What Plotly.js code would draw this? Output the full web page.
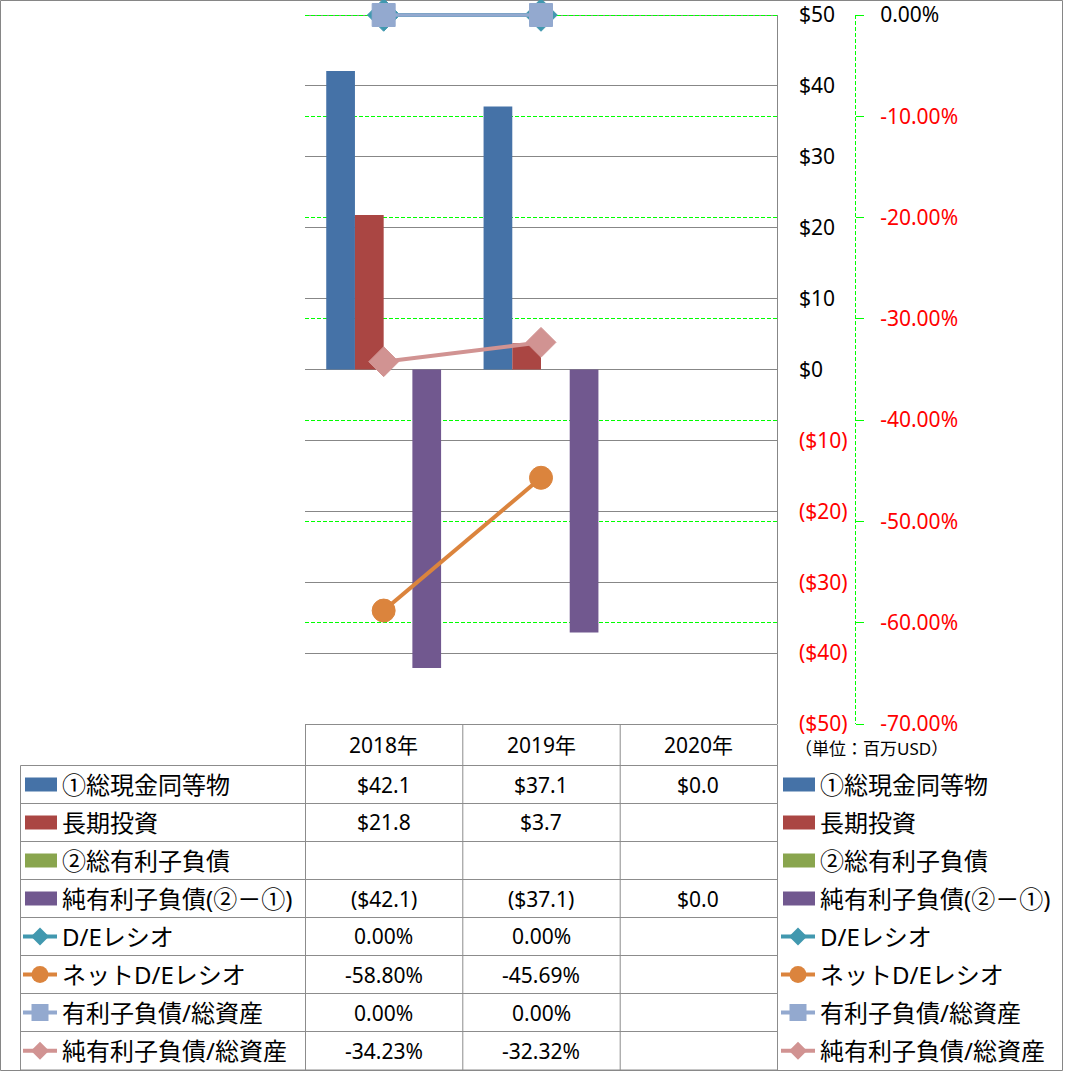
<!DOCTYPE html>
<html><head><meta charset="utf-8">
<script src="https://cdn.plot.ly/plotly-3.0.1.min.js"></script>
<style>html,body{margin:0;padding:0;background:#fff}#chart{width:1066px;height:1071px}</style>
</head><body><div id="chart"></div>
<script>
// ---- data ----
const categories = ['2018年', '2019年', '2020年'];
const cashEquivalents = [42.1, 37.1, 0.0];
const longTermInvestments = [21.8, 3.7, null];
const totalInterestBearingDebt = [null, null, null];
const netInterestBearingDebt = [-42.1, -37.1, 0.0];
const deRatio = [0.00, 0.00, null];
const netDeRatio = [-58.80, -45.69, null];
const debtToAssets = [0.00, 0.00, null];
const netDebtToAssets = [-34.23, -32.32, null];
const seriesNames = ['①総現金同等物', '長期投資', '②総有利子負債', '純有利子負債(②－①)',
  'D/Eレシオ', 'ネットD/Eレシオ', '有利子負債/総資産', '純有利子負債/総資産'];
const moneyTickValues = [50, 40, 30, 20, 10, 0, -10, -20, -30, -40, -50];
const moneyTickLabels = ['$50', '$40', '$30', '$20', '$10', '$0', '($10)', '($20)', '($30)', '($40)', '($50)'];
const pctTickValues = [0, -10, -20, -30, -40, -50, -60, -70];
const pctTickLabels = ['0.00%', '-10.00%', '-20.00%', '-30.00%', '-40.00%', '-50.00%', '-60.00%', '-70.00%'];
const unitLabel = '（単位：百万USD）';

// ---- styles ----
const FONT = '"Noto Sans", "Noto Sans CJK JP", sans-serif';
const colors = ['#4572A7', '#AA4643', '#89A54E', '#71588F', '#4198AF', '#DB843D', '#93A9CF', '#D19392'];
const RED = '#FF0000';
const GRID = '#878787';
const TABLE = '#8C8C8C';
// plot area (extended 3px above the $50 / 0% line so the top line is not clipped)
const L = 305, R = 777, T = 12, B = 724, TOPLINE = 15;
const EXT = (TOPLINE - T) / (B - TOPLINE);
const X = px => (px - L) / (R - L);
const Y = py => (B - py) / (B - T);

const barSeries = [cashEquivalents, longTermInvestments, totalInterestBearingDebt, netInterestBearingDebt];
const lineSeries = [deRatio, netDeRatio, debtToAssets, netDebtToAssets];
const lineSymbols = ['diamond', 'circle', 'square', 'diamond'];
const lineSizes = [25, 23, 23, 23];
const lineWidths = [4, 4, 3.5, 4];

const traces = [];
barSeries.forEach((d, i) => traces.push({
  type: 'bar', x: categories, y: d, name: seriesNames[i], yaxis: 'y',
  marker: {color: colors[i], line: {width: 0}}, hoverinfo: 'x+y'
}));
lineSeries.forEach((d, j) => traces.push({
  type: 'scatter', mode: 'lines+markers', x: categories, y: d, name: seriesNames[4 + j],
  yaxis: 'y2', cliponaxis: false,
  line: {color: colors[4 + j], width: lineWidths[j]},
  marker: {symbol: lineSymbols[j], size: lineSizes[j], color: colors[4 + j], line: {color: colors[4 + j], width: 1}}
}));

const redSpan = (s, neg) => neg ? '<span style="color:' + RED + '">' + s + '</span>' : s;
const moneyText = moneyTickLabels.map((s, i) => redSpan(s, moneyTickValues[i] < 0));
const pctText = pctTickLabels.map((s, i) => redSpan(s, pctTickValues[i] < 0));

const fmtMoney = v => v === null ? '' : (v < 0 ? '($' + Math.abs(v).toFixed(1) + ')' : '$' + v.toFixed(1));
const fmtPct = v => v === null ? '' : v.toFixed(2) + '%';

// ---- table geometry ----
const colBounds = [305, 462.3, 619.7, 777];
const rowLines = [765.5, 803.5, 841.5, 879.5, 917.5, 955.5, 993.5, 1031.5, 1070];
const shapes = [];
const annotations = [];
const seg = (x0, y0, x1, y1, color, width, dash, layer) => shapes.push({
  type: 'line', xref: 'paper', yref: 'paper', x0: X(x0), y0: Y(y0), x1: X(x1), y1: Y(y1),
  line: {color: color, width: width, dash: dash || 'solid'}, layer: layer || 'above'
});

// outer chart border
shapes.push({type: 'rect', xref: 'paper', yref: 'paper', x0: X(0.5), x1: X(1062.5), y0: Y(0.5), y1: Y(1070.5),
  line: {color: '#868686', width: 1}, layer: 'below'});
// plot top line and primary axis line
seg(L, TOPLINE + 0.5, R + 0.5, TOPLINE + 0.5, GRID, 1, 'solid', 'below');
seg(R + 0.5, TOPLINE, R + 0.5, B, GRID, 1, 'solid', 'below');
// secondary axis dashed line
seg(855.5, TOPLINE, 855.5, B, '#00FF00', 1, '4px,2px');
// table lines
seg(305, 724.5, 777, 724.5, TABLE, 1);
colBounds.forEach(x => seg(x + 0.5, 724.5, x + 0.5, 1070, TABLE, 1));
seg(20.5, 765.5, 20.5, 1070, TABLE, 1);
rowLines.forEach(y => seg(20.5, y, 777.5, y, TABLE, 1));

const cell = (x, y, text, anchor, size) => annotations.push({
  xref: 'paper', yref: 'paper', x: X(x), y: Y(y), text: text, showarrow: false,
  xanchor: anchor, yanchor: 'middle', font: {family: FONT, size: size || 21, color: '#000'}
});

// header
categories.forEach((c, k) => cell((colBounds[k] + colBounds[k + 1]) / 2, 745, c, 'center', 21));
// rows
const allSeries = barSeries.concat(lineSeries);
allSeries.forEach((d, i) => {
  const yc = (rowLines[i] + rowLines[i + 1]) / 2;
  const fmt = i < 4 ? fmtMoney : fmtPct;
  d.forEach((v, k) => {
    const t = fmt(v);
    if (t) cell((colBounds[k] + colBounds[k + 1]) / 2, yc, t, 'center', 21);
  });
  [[25, 60], [783, 818]].forEach(([kx, tx]) => {
    if (i < 4) {
      shapes.push({type: 'rect', xref: 'paper', yref: 'paper', x0: X(kx), x1: X(kx + 32), y0: Y(yc - 7), y1: Y(yc + 7),
        fillcolor: colors[i], line: {width: 0}, layer: 'above'});
    } else {
      const c = colors[i];
      const cx = kx + 15;
      seg(kx - 2, yc, kx + 32, yc, c, 4);
      const sym = lineSymbols[i - 4];
      if (sym === 'diamond') {
        const h = 9;
        shapes.push({type: 'path', xref: 'paper', yref: 'paper',
          path: 'M' + X(cx) + ',' + Y(yc - h) + ' L' + X(cx + h) + ',' + Y(yc) + ' L' + X(cx) + ',' + Y(yc + h) + ' L' + X(cx - h) + ',' + Y(yc) + ' Z',
          fillcolor: c, line: {width: 0}, layer: 'above'});
      } else if (sym === 'circle') {
        shapes.push({type: 'circle', xref: 'paper', yref: 'paper', x0: X(cx - 8.5), x1: X(cx + 8.5), y0: Y(yc + 8.5), y1: Y(yc - 8.5),
          fillcolor: c, line: {width: 0}, layer: 'above'});
      } else {
        shapes.push({type: 'rect', xref: 'paper', yref: 'paper', x0: X(cx - 8.5), x1: X(cx + 8.5), y0: Y(yc + 8.5), y1: Y(yc - 8.5),
          fillcolor: c, line: {width: 0}, layer: 'above'});
      }
    }
    cell(tx, yc, seriesNames[i], 'left', 24);
  });
});
cell(793, 748, unitLabel, 'left', 17);

const layout = {
  width: 1066, height: 1071,
  margin: {l: L, r: 1066 - R, t: T, b: 1071 - B, pad: 0},
  paper_bgcolor: '#FFFFFF', plot_bgcolor: 'rgba(0,0,0,0)',
  font: {family: FONT, size: 21, color: '#000'},
  showlegend: false, barmode: 'group', bargap: 0.27, bargroupgap: 0,
  xaxis: {type: 'category', range: [-0.5, 2.5], showticklabels: false, showgrid: false, zeroline: false,
    showline: false, ticks: ''},
  yaxis: {range: [-50, 50 + 100 * EXT], side: 'right', tickmode: 'array', tickvals: moneyTickValues, ticktext: moneyText,
    showline: false, showgrid: true, gridcolor: GRID, gridwidth: 1,
    zeroline: true, zerolinecolor: GRID, zerolinewidth: 1, ticks: '', ticklabelstandoff: 21,
    tickfont: {family: FONT, size: 21, color: '#000'}},
  yaxis2: {range: [-70, 70 * EXT], overlaying: 'y', side: 'right', anchor: 'free', position: 1, shift: 78,
    tickmode: 'array', tickvals: pctTickValues, ticktext: pctText,
    showline: false, ticks: 'outside', ticklen: 8, tickcolor: '#00FF00', tickwidth: 1,
    showgrid: true, gridcolor: '#00FF00', gridwidth: 1, griddash: '4px,2px', zeroline: false,
    ticklabelstandoff: 12, tickfont: {family: FONT, size: 21, color: '#000'}},
  shapes: shapes, annotations: annotations
};

Plotly.newPlot('chart', traces, layout, {displayModeBar: false, staticPlot: true});
</script>
</body></html>
